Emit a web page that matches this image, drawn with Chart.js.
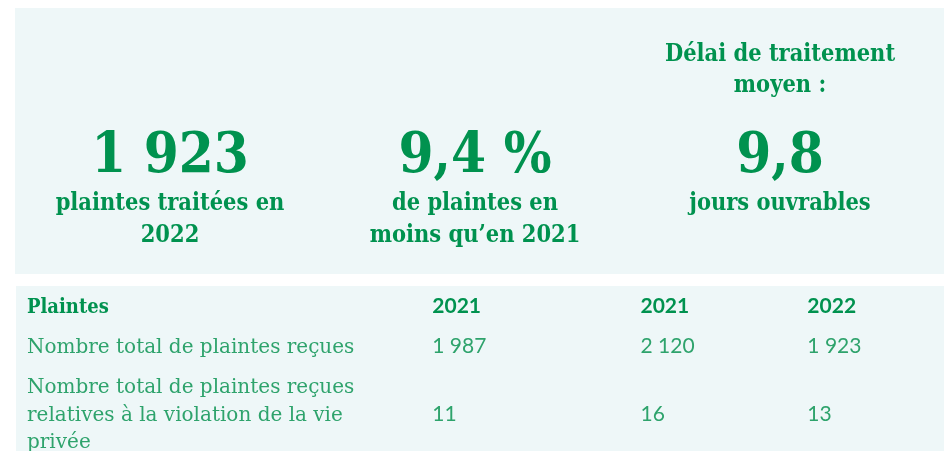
<!DOCTYPE html>
<html>
<head>
<meta charset="utf-8">
<script src="https://cdn.jsdelivr.net/npm/chart.js@4.4.1/dist/chart.umd.min.js"></script>
<style>
    html, body { margin: 0; padding: 0; background: #fff; width: 944px; height: 451px; overflow: hidden; }
    .panel { position: absolute; background: #eef7f8; }
    #kpiBox   { left: 15px; top: 8px;   width: 929px; height: 266px; }
    #tableBox { left: 16px; top: 286px; width: 928px; height: 165px; }
    canvas { display: block; }
</style>
</head>
<body>
<div id="kpiBox" class="panel"><canvas id="kpi" width="929" height="266"></canvas></div>
<div id="tableBox" class="panel"><canvas id="table" width="928" height="165"></canvas></div>
<script>
const GREEN = '#00924f';
const LIGHT = '#2ea36c';
const SLAB  = '"DejaVu Serif Condensed", "DejaVu Serif", serif';
const SERIF = '"DejaVu Serif", serif';
const SANS  = 'Lato, "Open Sans", sans-serif';

// --- key figures ---
const kpiKeys     = ['traitees', 'baisse', 'delai'];
const kpiValues   = ['1 923', '9,4 %', '9,8'];
const kpiTitles   = [[], [], ['Délai de traitement', 'moyen :']];
const kpiCaptions = [['plaintes traitées en', '2022'], ['de plaintes en', 'moins qu’en 2021'], ['jours ouvrables']];

// --- table ---
const tableHeader = ['Plaintes', '2021', '2021', '2022'];
const rowLabels   = [
    ['Nombre total de plaintes reçues'],
    ['Nombre total de plaintes reçues', 'relatives à la violation de la vie', 'privée'],
];
const yearA = ['1 987', '11'];
const yearB = ['2 120', '16'];
const yearC = ['1 923', '13'];

// layout helpers (column stops in % of table width, row gap in text lines)
const colStops = [0, 44.2, 66.9, 85.1];
const ROW_GAP  = 0.45;

const columns = [
    [[tableHeader[0]], ...rowLabels],
    [[tableHeader[1]], ...yearA.map(v => [v])],
    [[tableHeader[2]], ...yearB.map(v => [v])],
    [[tableHeader[3]], ...yearC.map(v => [v])],
];
const rowLines = columns[0].map((_, r) => Math.max(...columns.map(c => c[r].length)));
const rowStart = [];
rowLines.reduce((acc, n, i) => { rowStart[i] = acc; return acc + n + ROW_GAP; }, 0);

function drawLines(ctx, lines, x, y, step) {
    lines.forEach((t, k) => ctx.fillText(t, x, y + k * step));
}

const kpiText = {
    id: 'kpiText',
    afterDatasetsDraw(chart) {
        const ctx = chart.ctx;
        const meta = chart.getDatasetMeta(0);
        ctx.save();
        ctx.fillStyle = GREEN;
        ctx.textAlign = 'center';
        ctx.textBaseline = 'alphabetic';
        meta.data.forEach((pt, i) => {
            const x = pt.x, y = pt.y;
            ctx.font = `bold 23.4px ${SLAB}`;
            drawLines(ctx, kpiTitles[i], x, y - 111, 31);
            drawLines(ctx, kpiCaptions[i], x, y + 38, 32);
            ctx.font = `bold 56px ${SLAB}`;
            ctx.fillText(kpiValues[i], x, y);
        });
        ctx.restore();
    }
};

new Chart(document.getElementById('kpi'), {
    type: 'line',
    data: {
        labels: kpiKeys,
        datasets: [{ data: kpiKeys.map(() => 0), showLine: false, pointRadius: 0 }],
    },
    options: {
        responsive: false,
        animation:  false,
        events:     [],
        layout: { padding: { left: 2.5, right: 11.5, top: 62, bottom: 0 } },
        plugins: { legend: { display: false }, tooltip: { enabled: false } },
        scales: {
            x: { type: 'category', offset: true, display: false },
            y: { min: -1, max: 1, display: false },
        },
    },
    plugins: [kpiText],
});

const tableText = {
    id: 'tableText',
    afterDatasetsDraw(chart) {
        const ctx = chart.ctx;
        const ys = chart.scales.y;
        const step = ys.getPixelForValue(1) - ys.getPixelForValue(0);
        ctx.save();
        ctx.textAlign = 'left';
        ctx.textBaseline = 'alphabetic';
        chart.data.datasets.forEach((ds, c) => {
            chart.getDatasetMeta(c).data.forEach((pt, r) => {
                const lines = columns[c][r];
                const header = r === 0;
                if (c === 0) ctx.font = header ? `bold 20px ${SLAB}` : `20px ${SERIF}`;
                else ctx.font = header ? `bold 21px ${SANS}` : `21px ${SANS}`;
                ctx.fillStyle = header ? GREEN : LIGHT;
                const top = pt.y - (lines.length - 1) / 2 * step;
                drawLines(ctx, lines, pt.x, top, step);
            });
        });
        ctx.restore();
    }
};

new Chart(document.getElementById('table'), {
    type: 'scatter',
    data: {
        datasets: columns.map((col, c) => ({
            data: col.map((_, r) => ({ x: colStops[c], y: rowStart[r] + (rowLines[r] - 1) / 2 })),
            pointRadius: 0,
        })),
    },
    options: {
        responsive: false,
        animation:  false,
        events:     [],
        layout: { padding: { left: 11, right: 0, top: 27, bottom: 0 } },
        plugins: { legend: { display: false }, tooltip: { enabled: false } },
        scales: {
            x: { type: 'linear', min: 0, max: 100, display: false },
            y: { type: 'linear', min: 0, max: 5, reverse: true, display: false },
        },
    },
    plugins: [tableText],
});
</script>
</body>
</html>
